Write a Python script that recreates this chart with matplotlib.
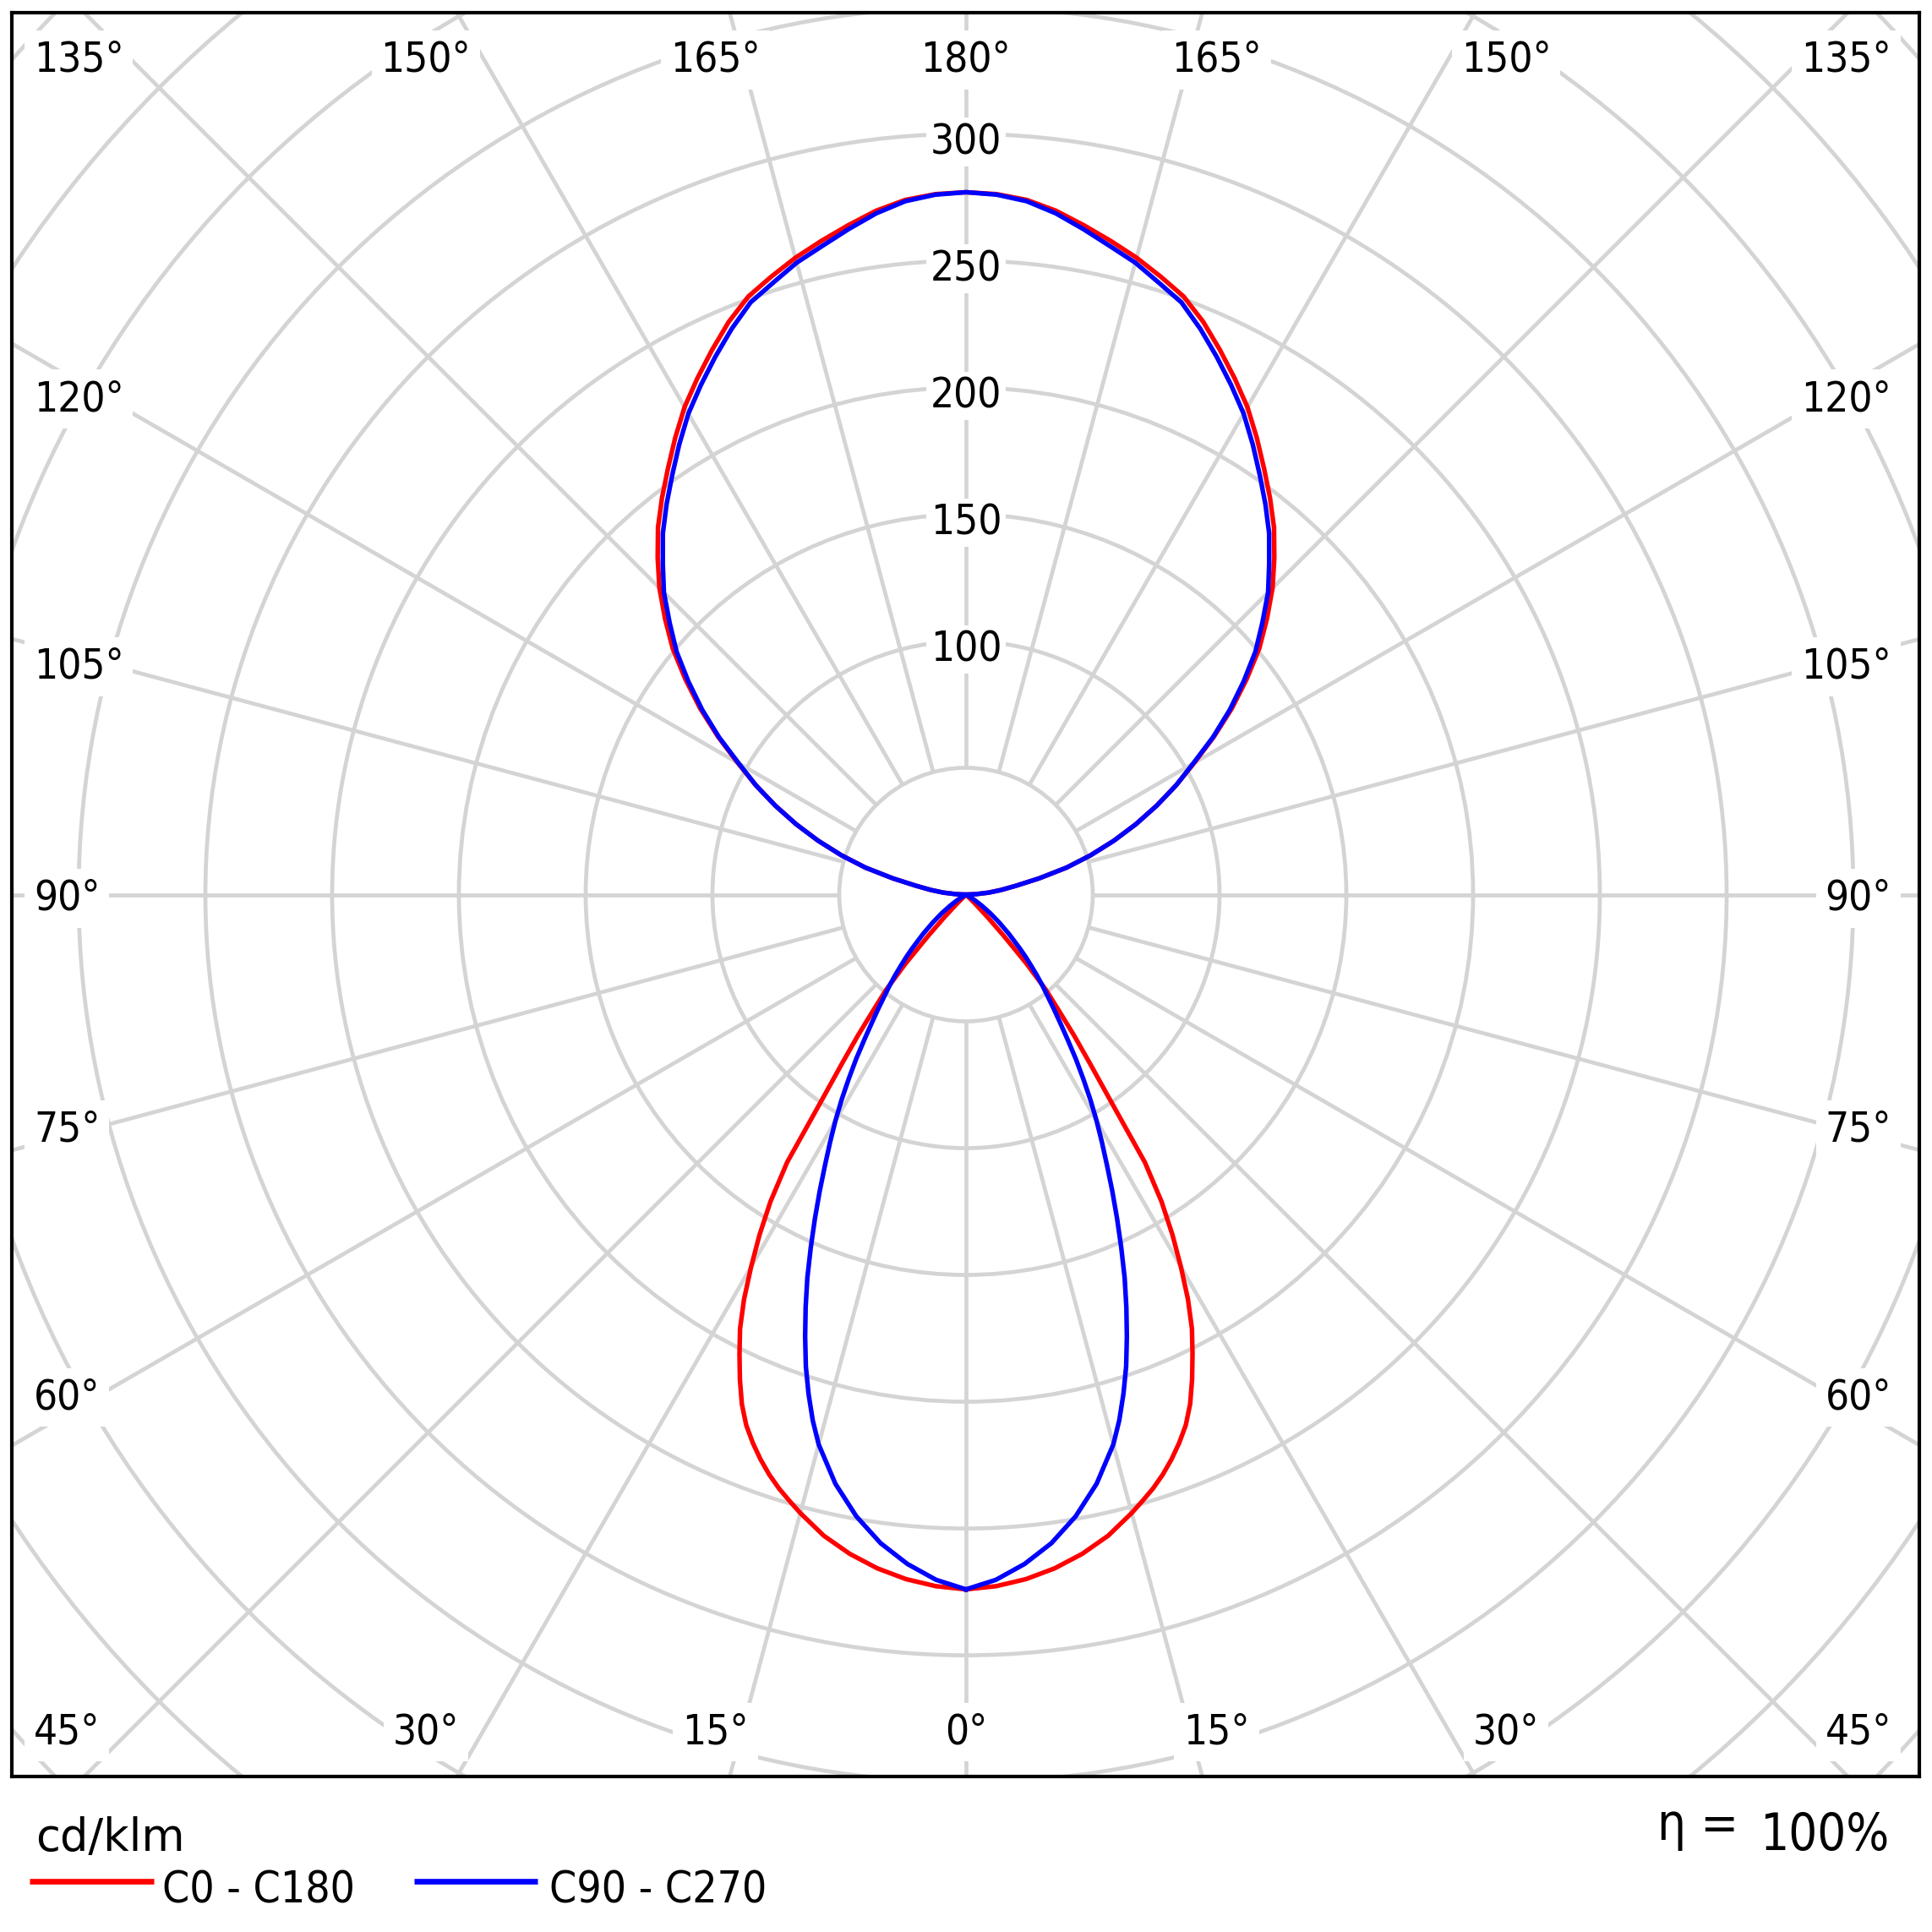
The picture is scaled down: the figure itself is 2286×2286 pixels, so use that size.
import matplotlib
matplotlib.use("Agg")
import matplotlib.pyplot as plt
import numpy as np
from matplotlib import font_manager
from matplotlib.patches import Circle
from matplotlib.lines import Line2D

plt.rcParams['font.family'] = ['Liberation Sans', 'DejaVu Sans']

# ---------------- data ----------------
# vertical angle (0 = straight down, 180 = straight up); finer steps where the curves turn fast
gamma = ([0, 2.5, 5, 7.5, 10, 12.5, 15]
         + [16.25, 17.5, 18.75, 20, 21.25, 22.5, 23.75, 25, 26.25, 27.5, 28.75, 30,
            31.25, 32.5, 33.75, 35, 36.25, 37.5, 38.75, 40, 41.25, 42.5, 43.75, 45]
         + [47.5 + 2.5 * i for i in range(54)])
c0_c180 = ([274, 273, 271, 268, 264, 259, 252.5]
           + [249, 245.5, 241.5, 237, 232, 226.5, 219.5, 211, 202, 193, 182, 169.5,
              157, 143.5, 127, 100, 83, 70, 58, 49, 36, 22, 12, 5]
           + [0] * 18
           + [4, 9, 14, 20, 29.5, 41, 51.5, 62, 72.5, 83, 93.5, 104,
              116, 128, 139.5, 151, 161, 171, 180, 189, 197, 205, 213.5, 222,
              229.5, 237, 244.5, 251, 255.5, 260, 264, 268, 272, 275, 276.5, 277])
c90_c270 = ([274, 270.5, 265, 258, 249, 238, 224.5]
            + [216, 206.5, 196.5, 185.5, 174.5, 163.5, 152, 141, 130.5, 120.5, 111.5, 103,
               94.5, 86, 78, 70, 63, 57, 51.5, 47, 42.5, 38, 34, 30]
            + [23, 17, 12, 7.5, 4, 1.5] + [0] * 12
            + [4, 9, 14, 20, 29.5, 41, 51.5, 62, 72.5, 83, 93.5, 103.5,
               115.5, 127, 138, 149, 158.5, 168.5, 177, 186, 194, 202, 210.5, 219,
               226.5, 234, 241.5, 248.5, 253, 258, 262, 266.5, 271, 274.5, 276.3, 277])
series_names = ['C0 - C180', 'C90 - C270']
series_colors = ['#ff0000', '#0000ff']

ring_values = [50, 100, 150, 200, 250, 300, 350, 400, 450, 500]
ring_labels = [100, 150, 200, 250, 300]
angle_labels = list(range(0, 181, 15))
unit_text = 'cd/klm'
eta_symbol = 'η ='
eta_value = '100%'

# ---------------- fonts ----------------
has_cond = any(f.name == 'DejaVu Sans' and f.stretch in ('condensed', 'semi-condensed')
               for f in font_manager.fontManager.ttflist)
if has_cond:
    LF = dict(family=['DejaVu Sans'], fontstretch='condensed')
    s_lab, s_leg, s_eta = 35.5, 37, 43
else:
    LF = dict(family=['Liberation Sans', 'DejaVu Sans'])
    s_lab, s_leg, s_eta = 35.3, 36, 44

# ---------------- figure ----------------
W = 2286
fig = plt.figure(figsize=(W / 100, W / 100), dpi=100)
fx = lambda px: px / W
fy = lambda py: 1 - py / W

left_px, right_px, top_px, bot_px = 13.8, 2271, 15, 2102
ax = fig.add_axes([fx(left_px), fy(bot_px), fx(right_px - left_px), (bot_px - top_px) / W])
ax.set_xlim(-376.4, 376.0)
ax.set_ylim(-347.8, 347.8)
ax.set_xticks([])
ax.set_yticks([])
for s in ax.spines.values():
    s.set_linewidth(3.0)
    s.set_color('black')
    s.set_zorder(6)

grid_color = '#d4d4d4'
grid_lw = 3.4
inner = ring_values[0]
for r in ring_values:
    ax.add_patch(Circle((0, 0), r, fill=False, ec=grid_color, lw=grid_lw, zorder=1))
for a in range(0, 360, 15):
    t = np.deg2rad(a)
    ax.plot([inner * np.sin(t), 800 * np.sin(t)], [-inner * np.cos(t), -800 * np.cos(t)],
            color=grid_color, lw=grid_lw, zorder=1, solid_capstyle='butt')

# value labels
for v in ring_labels:
    ax.text(0, v - 8, str(v), ha='center', va='baseline', fontsize=s_lab, zorder=3,
            bbox=dict(boxstyle='square,pad=0.1', fc='white', ec='none'), **LF)

# angle labels
top_base, bot_base = 324.5, -335.0
lx, rx = -367.7, 365.0
for g in angle_labels:
    sides = [1] if g in (0, 180) else [1, -1]
    for side in sides:
        up = g > 90
        th = 180 - g if up else g  # angle from vertical
        if th <= 30:
            x = side * 369 * np.tan(np.deg2rad(th))
            y = top_base if up else bot_base
            ha = 'center'
        elif th == 45:
            x = rx if side > 0 else lx
            y = top_base if up else bot_base
            ha = 'right' if side > 0 else 'left'
        else:
            x = rx if side > 0 else lx
            yc = 341 / np.tan(np.deg2rad(th))
            y = (yc if up else -yc) - 6.1
            ha = 'right' if side > 0 else 'left'
        ax.text(x, y, f'{g}°', ha=ha, va='baseline', fontsize=s_lab, zorder=3,
                bbox=dict(boxstyle='square,pad=0.22', fc='white', ec='none'), **LF)

# curves
g_rad = np.deg2rad(np.array(gamma, dtype=float))
for vals, name, col in zip([c0_c180, c90_c270], series_names, series_colors):
    I = np.array(vals, dtype=float)
    xr = I * np.sin(g_rad)
    yr = -I * np.cos(g_rad)
    x = np.concatenate([xr, -xr[::-1]])
    y = np.concatenate([yr, yr[::-1]])
    ax.plot(x, y, color=col, lw=3.9, zorder=4, label=name, solid_joinstyle='round')

# bottom texts
fig.text(fx(42.5), fy(2190), unit_text, ha='left', va='baseline', fontsize=38,
         family=['DejaVu Sans'])
fig.text(fx(1961), fy(2177), eta_symbol, ha='left', va='baseline', fontsize=s_eta, **LF)
fig.text(fx(2235), fy(2189), eta_value, ha='right', va='baseline', fontsize=s_eta, **LF)

# legend (manual)
leg_specs = [(35, 182, 192.5), (490, 636.5, 649.5)]
for (x0, x1, tx), name, col in zip(leg_specs, series_names, series_colors):
    fig.add_artist(Line2D([fx(x0), fx(x1)], [fy(2226), fy(2226)], color=col, lw=4.8,
                          transform=fig.transFigure, solid_capstyle='butt'))
    fig.text(fx(tx), fy(2251.7), name, ha='left', va='baseline', fontsize=s_leg, **LF)

fig.savefig('out.png', dpi=100)
